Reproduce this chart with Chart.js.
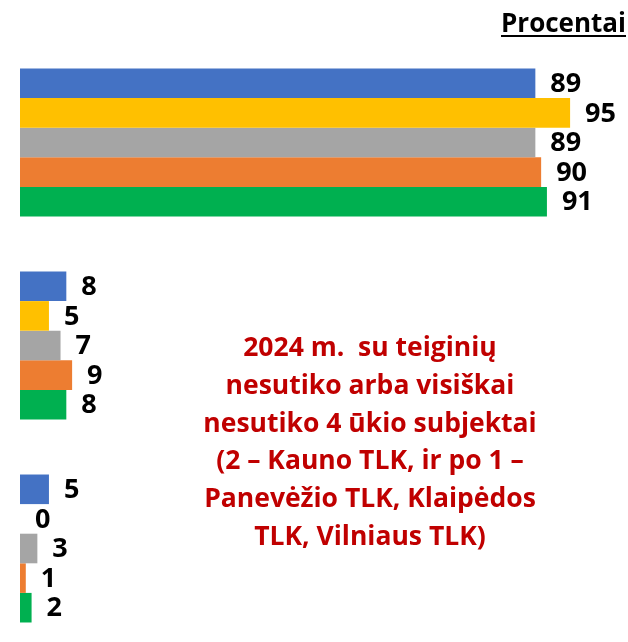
<!DOCTYPE html>
<html lang="lt">
<head>
<meta charset="utf-8">
<script src="https://cdn.jsdelivr.net/npm/chart.js@4.4.1/dist/chart.umd.min.js"></script>
<style>
  html, body { margin: 0; padding: 0; background: #fff; overflow: hidden; }
  #wrap { position: relative; width: 628px; height: 652px; }
  #title {
    position: absolute; right: 2px; top: 4px;
    font: bold 26px "Open Sans", sans-serif; color: #000;
    text-decoration: underline; text-underline-offset: 3px;
  }
  #note {
    position: absolute; left: 150px; width: 440px; top: 328px;
    font: bold 26.5px "Open Sans", sans-serif; color: #C00000;
    text-align: center; line-height: 37.8px;
  }
</style>
</head>
<body>
<div id="wrap">
  <canvas id="chart" width="628" height="652"></canvas>
  <div id="title">Procentai</div>
  <div id="note">2024 m.&nbsp; su teiginių<br>nesutiko arba visiškai<br>nesutiko 4 ūkio subjektai<br>(2 – Kauno TLK, ir po 1 –<br>Panevėžio TLK, Klaipėdos<br>TLK, Vilniaus TLK)</div>
</div>
<script>
// kategorijos ir reikšmės (procentai)
const categories = ['Sutiko arba visiškai sutiko', 'Nei sutiko, nei nesutiko', 'Nesutiko arba visiškai nesutiko'];
const seriesNames = ['2020', '2021', '2022', '2023', '2024'];
const values2020 = [89, 8, 5];
const values2021 = [95, 5, 0];
const values2022 = [89, 7, 3];
const values2023 = [90, 9, 1];
const values2024 = [91, 8, 2];
const colors = ['#4472C4', '#FFC000', '#A5A5A5', '#ED7D31', '#00B050'];

const allValues = [values2020, values2021, values2022, values2023, values2024];

// skaičiai šalia stulpelių
const valueLabels = {
  id: 'valueLabels',
  afterDatasetsDraw(chart) {
    const ctx = chart.ctx;
    ctx.save();
    ctx.font = 'bold 27px "Open Sans", sans-serif';
    ctx.fillStyle = '#000';
    ctx.textAlign = 'left';
    ctx.textBaseline = 'middle';
    chart.data.datasets.forEach((ds, i) => {
      chart.getDatasetMeta(i).data.forEach((el, j) => {
        ctx.fillText(ds.data[j], el.x + 15, el.y + 1);
      });
    });
    ctx.restore();
  }
};

new Chart(document.getElementById('chart'), {
  type: 'bar',
  data: {
    labels: categories,
    datasets: seriesNames.map((name, i) => ({
      label: name,
      data: allValues[i],
      backgroundColor: colors[i],
      barPercentage: 1,
      categoryPercentage: 0.729
    }))
  },
  options: {
    indexAxis: 'y',
    responsive: false,
    animation: false,
    layout: { padding: { left: 20, right: 0, top: 41, bottom: 2 } },
    plugins: { legend: { display: false }, tooltip: { enabled: false } },
    scales: {
      x: { display: false, min: 0, max: 105 },
      y: { display: false }
    }
  },
  plugins: [valueLabels]
});
</script>
</body>
</html>
